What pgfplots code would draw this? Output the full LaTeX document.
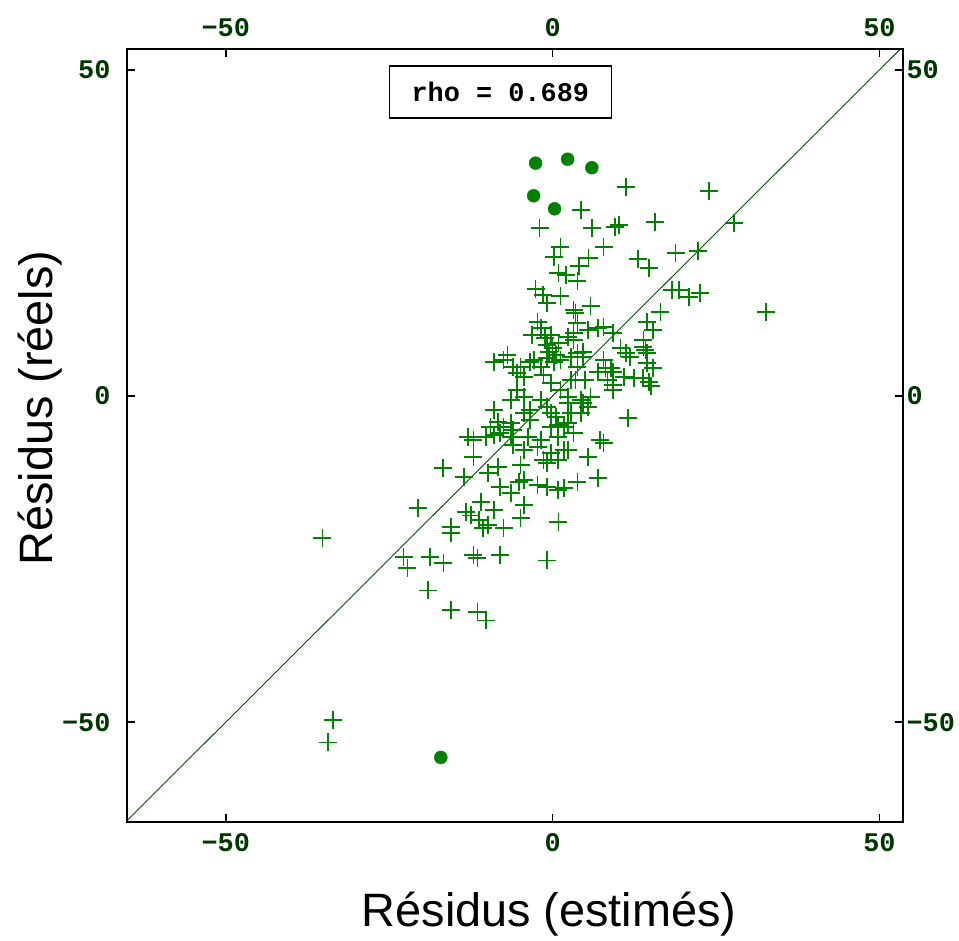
\documentclass[border=0pt]{standalone}
\usepackage{pgfplots}
\pgfplotsset{compat=1.18}
\usepackage{fontspec}
\setmainfont{Liberation Sans}
\newfontfamily\mono{Liberation Mono}
\definecolor{mk}{RGB}{0,130,0}
\definecolor{tl}{RGB}{0,55,0}
\begin{document}
\begin{tikzpicture}
\pgfplotsset{
 common/.style={
  scale only axis, width=776bp, height=773bp,
  at={(0,0)}, anchor=south west,
  xmin=-65.1, xmax=53.6, ymin=-65.3, ymax=53.2,
  xtick={-50,0,50}, ytick={-50,0,50},
  xticklabels={−50,0,50}, yticklabels={−50,0,50},
  tick align=inside, major tick length=8bp,
  axis line style={line width=1.6bp, color=black},
  tick style={line width=1.6bp, color=black},
  ticklabel style={font=\mono\bfseries\fontsize{27}{27}\selectfont, text=tl},
 }}
\begin{axis}[common,
  xticklabel style={yshift=-8bp}, yticklabel style={xshift=-13bp},
  xlabel={Résidus (estimés)}, ylabel={Résidus (réels)},
  label style={font=\fontsize{47}{47}\selectfont, text=black},
  xlabel style={at={(axis description cs:0.544,-0.1358)}, anchor=base},
  ylabel style={at={(axis description cs:-0.0954,0.5356)}, anchor=base, rotate=0},
  clip=true]
\addplot[color=mk!60!black, line width=0.9bp] coordinates {(-66,-66) (55,55)};
\addplot[only marks, mark=+, mark size=9bp, color=mk, mark options={line width=1.8bp}] coordinates {
(11.2,32.1)(23.9,31.4)(4.3,28.5)(-2.0,25.8)(6.0,25.8)(9.5,25.9)(10.2,26.2)(15.7,26.7)(27.7,26.5)(7.8,22.9)
(1.2,22.9)(0.2,21.3)(5.5,21.2)(4.0,19.9)(13.1,21.0)(14.7,19.6)(18.8,21.9)(22.3,22.2)(0.9,18.9)(2.0,18.6)
(3.8,17.6)(-2.6,16.4)(-0.8,14.3)(1.2,15.3)(5.8,13.8)(3.5,12.7)(18.3,16.3)(19.3,16.3)(20.9,15.2)(22.6,15.8)
(16.5,12.9)(32.6,12.9)(3.2,13.2)(-2.3,11.3)(-1.8,10.4)(3.8,11.2)(5.4,10.1)(6.9,10.4)(7.8,10.6)(9.3,9.7)
(-3.1,9.4)(14.5,11.3)(15.3,10.1)(13.9,8.6)(13.9,7.5)(14.2,7.1)(14.5,6.6)(10.4,7.4)(11.9,6.0)(11.2,6.6)
(7.8,5.5)(8.1,4.3)(8.9,4.3)(15.4,4.3)(10.9,2.9)(13.8,2.8)(14.7,2.1)(15.1,1.5)(9.3,1.7)(8.4,2.5)
(2.3,9.0)(3.2,9.7)(-0.8,7.8)(0,7.4)(-0.5,6.7)(0.5,6.3)(-0.9,5.8)(0.2,5.2)(0.9,8.1)(-1.2,8.9)
(-9.0,5.2)(-6.9,6.3)(-6.1,4.4)(-4.9,4.4)(-4.4,2.9)(-2.9,5.5)(-1.8,4.4)(1.2,5.5)(2.8,6.0)(3.8,4.4)
(5.0,2.5)(6.9,3.7)(9.3,3.7)(11.5,-3.4)(-5.4,0.9)(-4.4,-0.2)(-1.8,-0.6)(1.2,0.9)(2.3,-0.2)(4.3,-0.6)
(-3.4,-2.1)(-0.3,-2.6)(0.5,-3.2)(0.8,-4.4)(1.7,-4.8)(-9.0,-2.1)(-8.3,-4.0)(-7.5,-4.8)(-12.1,-6.7)(-13.0,-6.3)
(-10.2,-6.3)(-6.4,-6.3)(-1.8,-6.7)(5.4,-1.7)(4.3,-2.6)(7.3,-6.7)(7.8,-7.2)(-9.0,-6.0)(-8.0,-5.7)(-6.1,-7.5)
(-3.8,-6.3)(0.8,-6.3)(1.7,-8.3)(0.8,-9.8)(3.2,-5.7)(5.4,-9.4)(-1.4,-9.8)(-0.8,-10.3)(-12.1,-9.4)(-16.8,-11.0)
(-13.6,-12.4)(-9.9,-11.8)(-8.4,-10.9)(-4.9,-10.6)(-4.4,-12.9)(-5.2,-13.2)(-8.0,-14.0)(-6.4,-14.9)(-2.3,-13.7)(-0.8,-14.0)
(0.8,-14.4)(1.7,-14.1)(3.8,-13.2)(6.9,-12.6)(-11.0,-16.3)(-9.0,-17.5)(-4.4,-16.7)(-4.9,-18.7)(-13.3,-17.8)(-12.5,-18.3)
(-11.3,-19.0)(-9.9,-19.8)(-10.6,-20.2)(-7.5,-20.2)(-15.6,-20.1)(-15.6,-21.0)(-20.6,-17.2)(0.9,-19.3)(-0.8,-25.2)(-8.0,-24.4)
(-12.1,-24.4)(-11.5,-24.8)(-18.7,-24.7)(-16.7,-25.6)(-22.8,-24.7)(-22.2,-26.4)(-19.1,-29.8)(-15.6,-32.8)(-11.5,-33.1)(-10.2,-34.4)
(-35.2,-21.8)(-33.6,-49.7)(-34.4,-53.1)(-7.5,5.5)(-3.4,5.2)(3.8,6.6)(-0.3,9.4)(-1.5,15.5)(-5.4,3.5)(-1.4,3.2)
(-0.3,2.0)(2.8,2.5)(-6.4,-0.6)(-4.4,-2.6)(-3.4,-3.7)(-0.8,-1.7)(-0.3,-4.8)(2.3,-1.1)(2.8,-2.6)(2.3,-4.1)
(-6.4,-4.1)(-6.0,-5.2)(-9.5,-4.8)(-2.3,-7.8)(-0.3,-8.7)(2.3,-8.3)(-4.4,-8.3)(3.2,8.6)(4.7,6.7)(4.6,6.0)
(14.5,5.1)(12.4,2.8)(5.8,-0.2)(4.7,-1.1)(3.5,2.5)(9.3,0.9)
};
\addplot[only marks, mark=*, mark size=6.5bp, color=mk] coordinates {
(-2.6,35.7)(2.3,36.3)(6.0,35.0)(-2.9,30.7)(0.3,28.7)(-17.1,-55.4)
};
\node[draw=black, line width=1.3bp, fill=white, minimum width=222bp, minimum height=52bp,
  font=\mono\bfseries\fontsize{27}{27}\selectfont, text=black] at (axis cs:-8,46.6) {rho = 0.689};
\end{axis}
\begin{axis}[common, xticklabel pos=upper, yticklabel pos=right, xticklabel style={yshift=9bp}]
\end{axis}
\pgfresetboundingbox
\path (-127bp,-119bp) rectangle (832bp,822bp);
\end{tikzpicture}
\end{document}
